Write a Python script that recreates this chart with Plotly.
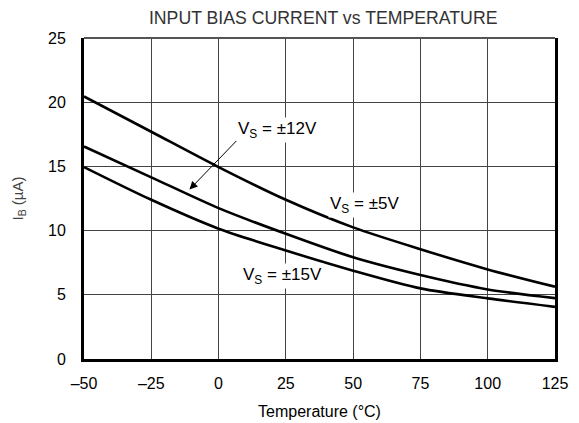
import plotly.graph_objects as go

# Temperature points (deg C)
temps = [-50, -25, 0, 25, 50, 75, 100, 125]

# Input bias current (uA) per supply voltage
ib_vs5 = [20.45, 17.7, 14.95, 12.4, 10.25, 8.55, 6.98, 5.63]
ib_vs12 = [16.55, 14.15, 11.75, 9.75, 7.92, 6.54, 5.42, 4.74]
ib_vs15 = [14.95, 12.4, 10.15, 8.45, 6.88, 5.5, 4.72, 4.06]

x_ticks = [-50, -25, 0, 25, 50, 75, 100, 125]
x_ticktext = ["\u201350", "\u201325", "0", "25", "50", "75", "100", "125"]
y_ticks = [0, 5, 10, 15, 20, 25]

FONT = "Liberation Sans, Arial, sans-serif"

fig = go.Figure()
for ib in (ib_vs5, ib_vs12, ib_vs15):
    fig.add_trace(go.Scatter(
        x=temps, y=ib, mode="lines",
        line=dict(color="black", width=2.6, shape="spline", smoothing=0.8),
        showlegend=False, hoverinfo="skip",
    ))

label_style = dict(
    showarrow=False, xanchor="left", yanchor="middle",
    font=dict(family=FONT, size=17, color="black"),
    bgcolor="white", borderpad=1,
)
fig.add_annotation(x=6.5, y=17.8, text="V<sub>S</sub> = \u00b112V", **label_style)
fig.add_annotation(x=40.6, y=12.0, text="V<sub>S</sub> = \u00b15V", **label_style)
fig.add_annotation(x=8.15, y=6.45, text="V<sub>S</sub> = \u00b115V", **label_style)

# pointer from the 12V label down to its curve
fig.add_annotation(
    x=-10.8, y=13.2, ax=7.15, ay=17.1,
    xref="x", yref="y", axref="x", ayref="y",
    text="", showarrow=True, arrowhead=2, arrowsize=1.6,
    arrowwidth=1, arrowcolor="black",
)

# lighter top border of the frame
fig.add_shape(type="line", xref="paper", yref="paper",
              x0=0, x1=1, y0=1, y1=1,
              line=dict(color="#555", width=2))

fig.update_xaxes(
    range=[-50, 125], tickvals=x_ticks, ticktext=x_ticktext,
    showgrid=True, gridcolor="#444", gridwidth=1,
    showline=True, linecolor="black", linewidth=3, mirror=False,
    ticks="", ticklabelstandoff=8, zeroline=False, automargin=False,
    tickfont=dict(family=FONT, size=16, color="black"),
    title=dict(text="Temperature (\u00b0C)", standoff=15,
               font=dict(family=FONT, size=16, color="black")),
)
fig.update_yaxes(
    range=[0, 25], tickvals=y_ticks,
    showgrid=True, gridcolor="#444", gridwidth=1,
    showline=True, linecolor="black", linewidth=3, mirror=True,
    ticks="", ticklabelstandoff=12, zeroline=False, automargin=False,
    tickfont=dict(family=FONT, size=16, color="black"),
    title=dict(text="I<sub>B</sub> (\u00b5A)", standoff=21,
               font=dict(family=FONT, size=15, color="#444")),
)

# the page body adds an 8px offset, so the figure is 8px smaller
fig.update_layout(
    width=571, height=415,
    margin=dict(l=76, r=24, t=30, b=64),
    plot_bgcolor="white", paper_bgcolor="white",
    title=dict(text="INPUT BIAS CURRENT vs TEMPERATURE",
               x=0.552, xanchor="center", y=0.977, yanchor="middle",
               font=dict(family=FONT, size=17.7, color="#333")),
)

fig.write_html("out.html")
